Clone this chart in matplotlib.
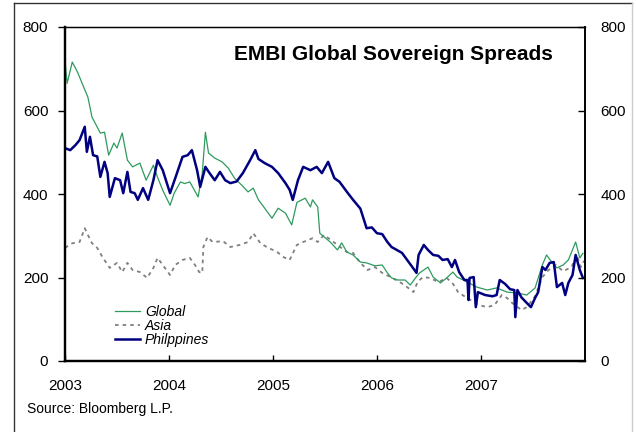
import matplotlib
matplotlib.use("Agg")
import matplotlib.pyplot as plt
from matplotlib.lines import Line2D

plt.rcParams['font.family'] = ['Liberation Sans', 'DejaVu Sans']

# EMBI Global sovereign spreads (bp); x in decimal years
global_x = [2003.00, 2003.02, 2003.07, 2003.12, 2003.14, 2003.22, 2003.26, 2003.34, 2003.38, 2003.42,
            2003.47, 2003.50, 2003.55, 2003.60, 2003.65, 2003.72, 2003.78, 2003.85, 2003.89, 2003.94,
            2004.01, 2004.05, 2004.11, 2004.15, 2004.20, 2004.28, 2004.32, 2004.35, 2004.38, 2004.44,
            2004.51, 2004.57, 2004.63, 2004.70, 2004.76, 2004.81, 2004.86, 2004.92, 2004.99, 2005.05,
            2005.12, 2005.18, 2005.23, 2005.31, 2005.36, 2005.38, 2005.43, 2005.45, 2005.55, 2005.62,
            2005.66, 2005.71, 2005.77, 2005.84, 2005.90, 2005.98, 2006.05, 2006.10, 2006.14, 2006.20,
            2006.27, 2006.32, 2006.37, 2006.41, 2006.49, 2006.54, 2006.61, 2006.67, 2006.73, 2006.77,
            2006.83, 2006.96, 2007.06, 2007.15, 2007.25, 2007.35, 2007.44, 2007.52, 2007.59, 2007.63,
            2007.68, 2007.73, 2007.79, 2007.84, 2007.91, 2007.95, 2007.98]
global_y = [720, 665, 716, 692, 680, 632, 584, 546, 548, 493,
            522, 510, 546, 481, 465, 474, 433, 469, 440, 409,
            373, 402, 429, 425, 429, 393, 450, 548, 498, 486,
            477, 462, 438, 421, 405, 414, 386, 366, 342, 366,
            354, 326, 380, 390, 369, 386, 369, 306, 285, 266,
            283, 261, 254, 237, 235, 228, 230, 211, 199, 194,
            194, 182, 199, 211, 225, 201, 187, 199, 213, 201,
            194, 177, 170, 175, 165, 163, 158, 175, 230, 254,
            237, 223, 230, 242, 285, 247, 258]

asia_x = [2003.00, 2003.07, 2003.14, 2003.19, 2003.22, 2003.26, 2003.31, 2003.36, 2003.43, 2003.50,
          2003.55, 2003.60, 2003.65, 2003.72, 2003.79, 2003.85, 2003.89, 2003.94, 2004.01, 2004.06,
          2004.13, 2004.20, 2004.25, 2004.29, 2004.32, 2004.33, 2004.37, 2004.42, 2004.52, 2004.59,
          2004.68, 2004.76, 2004.81, 2004.88, 2004.94, 2005.04, 2005.10, 2005.16, 2005.23, 2005.29,
          2005.38, 2005.43, 2005.49, 2005.62, 2005.71, 2005.77, 2005.84, 2005.91, 2005.98, 2006.05,
          2006.13, 2006.22, 2006.29, 2006.35, 2006.39, 2006.44, 2006.51, 2006.59, 2006.67, 2006.73,
          2006.78, 2006.84, 2006.90, 2006.98, 2007.06, 2007.13, 2007.20, 2007.25, 2007.30, 2007.39,
          2007.44, 2007.52, 2007.59, 2007.65, 2007.72, 2007.79, 2007.87, 2007.92, 2007.96, 2007.99]
asia_y = [271, 282, 285, 318, 302, 282, 271, 249, 223, 235,
          213, 235, 218, 213, 199, 223, 247, 230, 206, 230,
          242, 247, 230, 213, 211, 273, 297, 285, 287, 273,
          278, 285, 306, 282, 273, 261, 249, 242, 278, 285,
          294, 285, 302, 278, 261, 259, 235, 218, 225, 211,
          201, 189, 177, 165, 189, 201, 199, 189, 199, 185,
          165, 155, 146, 134, 129, 134, 158, 151, 139, 122,
          129, 155, 201, 218, 230, 215, 225, 254, 225, 240]

phil_x = [2003.00, 2003.05, 2003.10, 2003.14, 2003.19, 2003.21, 2003.24, 2003.27, 2003.31, 2003.34,
          2003.38, 2003.41, 2003.43, 2003.48, 2003.53, 2003.56, 2003.60, 2003.63, 2003.67, 2003.70,
          2003.75, 2003.80, 2003.85, 2003.89, 2003.94, 2004.01, 2004.06, 2004.13, 2004.18, 2004.22,
          2004.27, 2004.30, 2004.35, 2004.39, 2004.44, 2004.49, 2004.54, 2004.59, 2004.65, 2004.71,
          2004.78, 2004.83, 2004.86, 2004.92, 2004.99, 2005.05, 2005.12, 2005.16, 2005.19, 2005.24,
          2005.29, 2005.36, 2005.42, 2005.47, 2005.53, 2005.59, 2005.64, 2005.72, 2005.77, 2005.84,
          2005.90, 2005.95, 2006.00, 2006.05, 2006.10, 2006.14, 2006.19, 2006.24, 2006.29, 2006.34,
          2006.38, 2006.40, 2006.45, 2006.49, 2006.54, 2006.59, 2006.63, 2006.68, 2006.72, 2006.75,
          2006.79, 2006.84, 2006.87, 2006.88, 2006.89, 2006.93, 2006.95, 2006.97, 2007.04, 2007.11,
          2007.15, 2007.18, 2007.23, 2007.28, 2007.32, 2007.33, 2007.35, 2007.39, 2007.44, 2007.48,
          2007.52, 2007.55, 2007.59, 2007.62, 2007.66, 2007.70, 2007.73, 2007.78, 2007.81, 2007.84,
          2007.88, 2007.91, 2007.95, 2007.98]
phil_y = [510, 505, 517, 529, 561, 501, 537, 493, 490, 441,
          477, 450, 393, 438, 433, 402, 453, 405, 402, 386,
          414, 386, 433, 481, 457, 402, 438, 489, 493, 505,
          457, 417, 465, 450, 433, 453, 433, 426, 430, 450,
          481, 505, 484, 474, 465, 450, 426, 410, 386, 433,
          465, 457, 465, 450, 477, 438, 429, 402, 386, 365,
          318, 320, 306, 304, 285, 273, 266, 259, 242, 225,
          211, 254, 278, 266, 254, 252, 242, 244, 225, 242,
          213, 194, 194, 146, 199, 201, 129, 165, 158, 155,
          158, 194, 185, 172, 170, 105, 170, 152, 139, 129,
          151, 165, 225, 218, 235, 237, 177, 187, 158, 187,
          206, 254, 218, 199]

year_ticks = [2003, 2004, 2005, 2006, 2007]
y_ticks = [0, 200, 400, 600, 800]

W, H = 636, 432
fig = plt.figure(figsize=(W / 100, H / 100), dpi=100)
ax = fig.add_axes([65 / W, 1 - 361 / H, 520 / W, 334 / H])

ax.plot(global_x, global_y, color='#2e9a5e', lw=0.9, label='Global', zorder=3)
ax.plot(asia_x, asia_y, color='#808080', lw=1.3, ls=(0, (2, 2.2)), label='Asia', zorder=2)
ax.plot(phil_x, phil_y, color='#000080', lw=1.8, label='Philppines', zorder=4)

ax.set_xlim(2003, 2008)
ax.set_ylim(0, 800)
ax.set_xticks(year_ticks)
ax.set_xticklabels([str(y) for y in year_ticks])
ax.set_yticks(y_ticks)
ax.tick_params(axis='x', direction='in', length=4, width=1, pad=13, labelsize=11)
ax.tick_params(axis='y', direction='out', length=5, width=1, pad=7, labelsize=11)

ax2 = ax.twinx()
ax2.set_ylim(0, 800)
ax2.set_yticks(y_ticks)
ax2.tick_params(axis='y', direction='in', length=5, width=1, pad=11, labelsize=11)

for a in (ax, ax2):
    a.spines['left'].set_linewidth(1.6)
    a.spines['bottom'].set_linewidth(1.6)
    a.spines['top'].set_linewidth(0.9)
    a.spines['right'].set_linewidth(1.2)

ax.text(553 / W, 1 - 54 / H, 'EMBI Global Sovereign Spreads', transform=fig.transFigure,
        ha='right', va='center', fontsize=15, fontweight='bold')

leg = ax.legend(loc='upper left', bbox_to_anchor=(115 / W, 1 - 305 / H),
                bbox_transform=fig.transFigure, frameon=False, fontsize=10,
                prop={'style': 'italic', 'size': 10}, handlelength=1.8, handletextpad=0.35,
                labelspacing=0.0, borderpad=0, borderaxespad=0)

fig.text(27 / W, 1 - 409 / H, 'Source: Bloomberg L.P.', ha='left', va='center', fontsize=10)

# outer frame around the figure
fig.add_artist(Line2D([14 / W, 14 / W], [0, 1 - 3 / H], transform=fig.transFigure, color='#333333', lw=1))
fig.add_artist(Line2D([14 / W, 632 / W], [1 - 3 / H, 1 - 3 / H], transform=fig.transFigure, color='#333333', lw=1))
fig.add_artist(Line2D([632 / W, 632 / W], [0, 1 - 3 / H], transform=fig.transFigure, color='#cccccc', lw=1))

fig.savefig('out.png', dpi=100)
